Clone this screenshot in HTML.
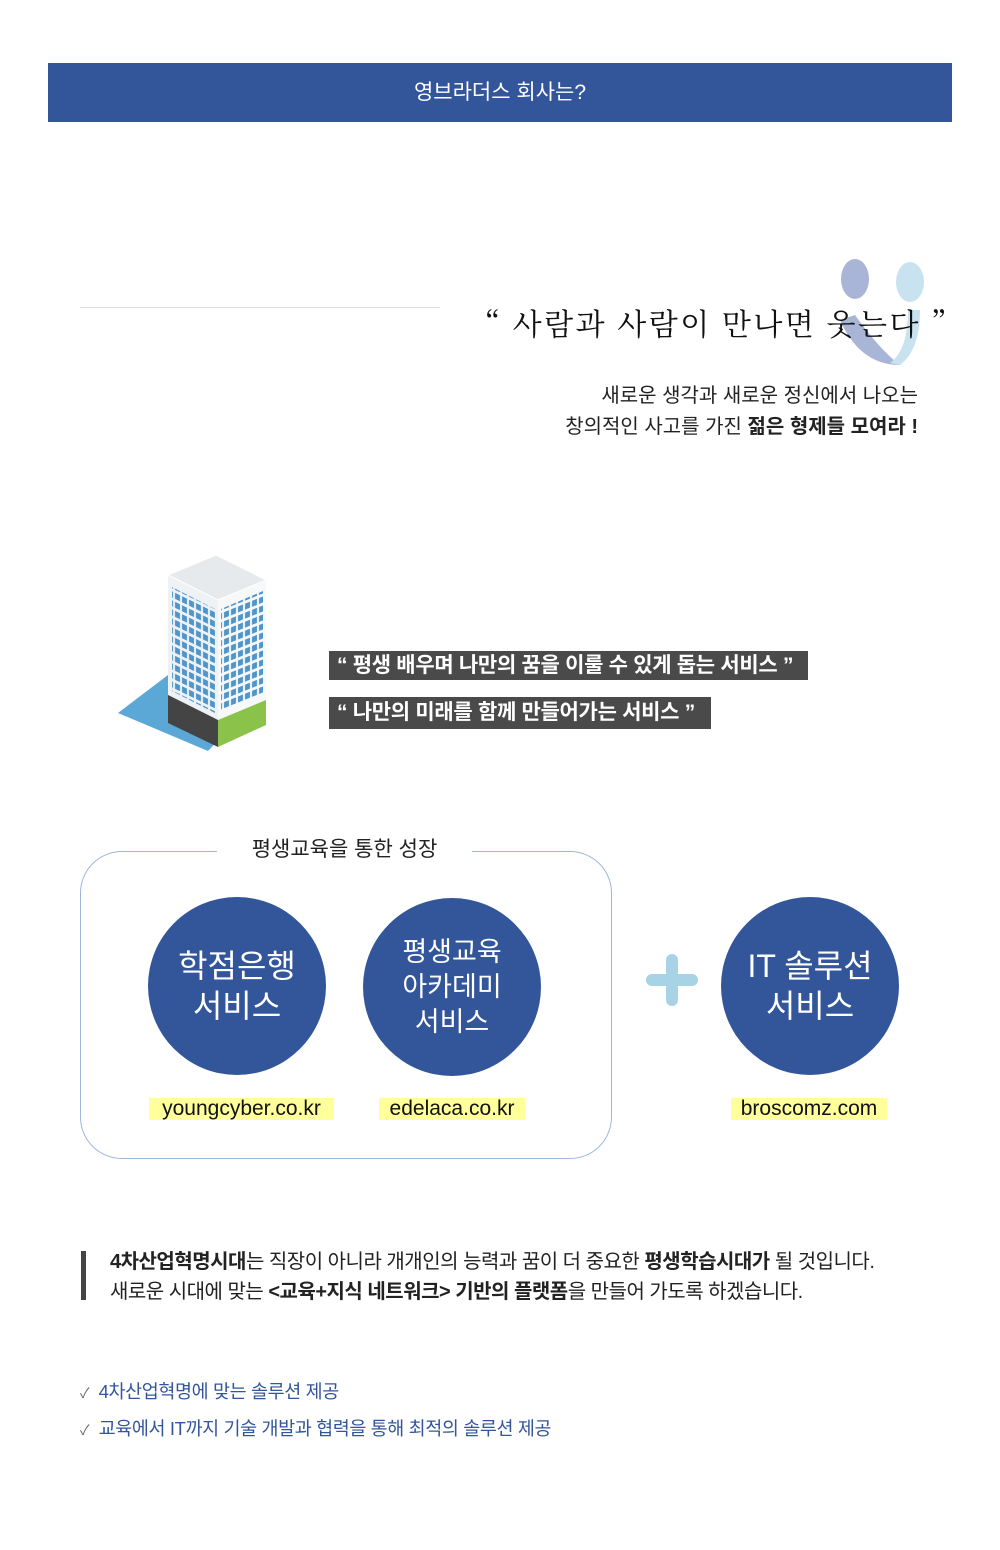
<!DOCTYPE html>
<html><head><meta charset="utf-8"><style>
body{margin:0;width:1000px;height:1550px;background:#fff;position:relative;font-family:"Liberation Sans","Noto Sans CJK KR",sans-serif;overflow:hidden}
.a{position:absolute}
.hdr{left:48px;top:63px;width:904px;height:59px;background:#33569b;color:#fff;font-size:21px;line-height:59px;text-align:center}
.c{position:absolute;width:178px;height:178px;border-radius:50%;background:#33569b;color:#fff;text-align:center;display:flex;align-items:center;justify-content:center}
.y{position:absolute;background:#ffff9c;font-size:21px;color:#111;text-align:center;height:22px;line-height:22px}
.dk{position:absolute;background:#4a4a4a;color:#fff;font-size:21px;font-weight:bold;padding-left:8px;white-space:nowrap;letter-spacing:-0.3px}
</style></head><body>
<div class="a hdr">영브라더스 회사는?</div>
<div class="a" style="left:80px;top:307px;width:360px;height:1px;background:#ddd"></div>
<svg class="a" style="left:820px;top:255px" width="110" height="115"><ellipse cx="35" cy="24" rx="14" ry="20" fill="#a9b5d6"/><ellipse cx="90" cy="27" rx="14" ry="20" fill="#c8e3ef"/><path d="M20 65 Q40 110 80 110 Q60 95 35 60Z" fill="#a9b5d6"/><path d="M80 110 Q100 95 100 55 L88 55 Q88 95 70 108Z" fill="#c8e3ef"/></svg>
<div class="a" style="left:470px;top:300px;font-size:30px;color:#111;font-family:'Noto Serif CJK SC',serif;white-space:nowrap;letter-spacing:2.5px">“ 사람과 사람이 만나면 웃는다 ”</div>
<div class="a" style="right:82px;top:381px;font-size:20px;color:#222;text-align:right;line-height:31px">새로운 생각과 새로운 정신에서 나오는<br>창의적인 사고를 가진 <b>젊은 형제들 모여라 !</b></div>
<svg class="a" style="left:118px;top:555px" width="155" height="200">
<defs>
<pattern id="wl" width="7" height="9" patternUnits="userSpaceOnUse" patternTransform="skewY(26)"><rect x="1" y="1" width="5" height="6" fill="#4f95c9"/></pattern>
<pattern id="wr" width="7" height="9" patternUnits="userSpaceOnUse" patternTransform="skewY(-22)"><rect x="1" y="1" width="5" height="6" fill="#4f95c9"/></pattern>
</defs>
<polygon points="0,158 50,120 110,175 90,196" fill="#5ba8d6"/>
<polygon points="50,20 100,45 100,165 50,140" fill="#eef2f5"/>
<polygon points="100,45 148,25 148,145 100,165" fill="#f6f8fa"/>
<polygon points="50,20 98,0 148,25 100,45" fill="#e6eaed" stroke="#fff"/>
<polygon points="54,32 97,54 97,158 54,136" fill="url(#wl)"/>
<polygon points="103,54 145,36 145,138 103,156" fill="url(#wr)"/>
<polygon points="50,140 100,165 100,192 50,168" fill="#444"/>
<polygon points="100,165 148,145 148,170 100,192" fill="#8bc34a"/>
</svg>
<div class="dk" style="left:329px;top:651px;width:471px;height:29px;line-height:29px">“ 평생 배우며 나만의 꿈을 이룰 수 있게 돕는 서비스 ”</div>
<div class="dk" style="left:329px;top:697px;width:374px;height:32px;line-height:32px">“ 나만의 미래를 함께 만들어가는 서비스 ”</div>
<div class="a" style="left:80px;top:851px;width:530px;height:306px;border:1px solid #9db7de;border-radius:42px"></div>
<div class="a" style="left:217px;top:834px;width:255px;background:#fff;text-align:center;font-size:21px;color:#222;line-height:32px">평생교육을 통한 성장</div>
<div class="c" style="left:148px;top:897px;font-size:32px;line-height:40px">학점은행<br>서비스</div>
<div class="c" style="left:363px;top:898px;font-size:27px;line-height:35px">평생교육<br>아카데미<br>서비스</div>
<div class="c" style="left:721px;top:897px;font-size:32px;line-height:40px">IT 솔루션<br>서비스</div>
<div class="a" style="left:646px;top:974px;width:52px;height:12px;background:#a8d3e6;border-radius:6px"></div>
<div class="a" style="left:666px;top:954px;width:12px;height:52px;background:#a8d3e6;border-radius:6px"></div>
<div class="y" style="left:149px;top:1098px;width:185px">youngcyber.co.kr</div>
<div class="y" style="left:379px;top:1098px;width:146px">edelaca.co.kr</div>
<div class="y" style="left:731px;top:1098px;width:156px">broscomz.com</div>
<div class="a" style="left:81px;top:1251px;width:5px;height:49px;background:#444"></div>
<div class="a" style="left:110px;top:1247px;font-size:20px;color:#222;line-height:30px;white-space:nowrap;letter-spacing:-.5px"><b>4차산업혁명시대</b>는 직장이 아니라 개개인의 능력과 꿈이 더 중요한 <b>평생학습시대가</b> 될 것입니다.<br>새로운 시대에 맞는 <b>&lt;교육+지식 네트워크&gt; 기반의 플랫폼</b>을 만들어 가도록 하겠습니다.</div>
<div class="a" style="left:80px;top:1374px;font-size:18.5px;color:#33569b;line-height:35px;white-space:nowrap;letter-spacing:-.4px"><span style="color:#666;font-size:14px">✓</span>&nbsp; 4차산업혁명에 맞는 솔루션 제공<br><span style="color:#666;font-size:14px">✓</span>&nbsp; 교육에서 IT까지 기술 개발과 협력을 통해 최적의 솔루션 제공</div>
</body></html>
